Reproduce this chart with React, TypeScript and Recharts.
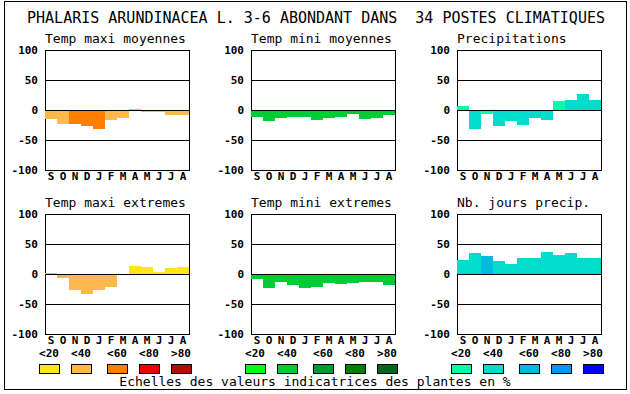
import React from "react";
import { BarChart, Bar, XAxis, YAxis, ReferenceLine, ReferenceArea, Cell } from "recharts";

const months = ["S", "O", "N", "D", "J", "F", "M", "A", "M", "J", "J", "A"];
const yTicks = [-100, -50, 0, 50, 100];
const levelLabels = ["<20", "<40", "<60", "<80", ">80"];

const warmScale = ["#FFE619", "#FFB84D", "#FF8000", "#EE0000", "#B01000"];
const greenScale = ["#00FF1A", "#00CC33", "#009933", "#008000", "#006619"];
const blueScale = ["#00FFAA", "#00DDCC", "#00BBDD", "#0099EE", "#0000FF"];

// values per month (S..A), and level index of each bar (0 = <20 ... 4 = >80)
const maxiMoy = [-15, -24, -24, -27, -32, -17, -13, 2, -4, -4, -8, -8];
const maxiMoyLvl = [1, 1, 2, 2, 2, 1, 1, 1, 1, 1, 1, 1];
const miniMoy = [-11, -18, -13, -11, -11, -17, -13, -12, -7, -15, -13, -8];
const miniMoyLvl = [1, 1, 1, 1, 1, 1, 1, 1, 1, 1, 1, 1];
const precip = [7, -32, -6, -27, -18, -25, -13, -17, 15, 17, 27, 17];
const precipLvl = [0, 1, 0, 1, 1, 1, 1, 1, 0, 1, 1, 1];
const maxiExt = [2, -6, -27, -33, -27, -21, 0, 13, 12, 3, 10, 12];
const maxiExtLvl = [1, 1, 1, 1, 1, 1, 1, 0, 0, 0, 0, 0];
const miniExt = [-8, -23, -13, -18, -24, -21, -15, -16, -15, -13, -13, -18];
const miniExtLvl = [1, 1, 1, 1, 1, 1, 1, 1, 1, 1, 1, 1];
const joursPrecip = [23, 35, 30, 22, 17, 27, 27, 37, 32, 35, 27, 27];
const joursPrecipLvl = [1, 1, 2, 1, 1, 1, 1, 1, 1, 1, 1, 1];

const MONO = "'DejaVu Sans Mono', monospace";
const tickStyle = { fontSize: 11, fontWeight: "bold", fill: "#000", fontFamily: MONO };

const colLefts = [45, 251, 457];
const rowTops = [50, 214];

const panels = [
  { title: "Temp maxi moyennes", col: 0, row: 0, values: maxiMoy, levels: maxiMoyLvl, palette: warmScale },
  { title: "Temp mini moyennes", col: 1, row: 0, values: miniMoy, levels: miniMoyLvl, palette: greenScale },
  { title: "Precipitations", col: 2, row: 0, values: precip, levels: precipLvl, palette: blueScale },
  { title: "Temp maxi extremes", col: 0, row: 1, values: maxiExt, levels: maxiExtLvl, palette: warmScale },
  { title: "Temp mini extremes", col: 1, row: 1, values: miniExt, levels: miniExtLvl, palette: greenScale },
  { title: "Nb. jours precip.", col: 2, row: 1, values: joursPrecip, levels: joursPrecipLvl, palette: blueScale },
];

const palettes = [warmScale, greenScale, blueScale];
const swatchOffsets = [0, 32, 68, 100, 132];

function Panel({ left, top, values, levels, palette }: any) {
  const data = values.map((v: number, i: number) => ({ i, v }));
  return (
    <div style={{ position: "absolute", left: left - 45, top: top - 10 }}>
      <BarChart width={199} height={152} data={data} margin={{ top: 10, right: 10, left: 5, bottom: 0 }} barCategoryGap={0}>
        <XAxis
          dataKey="i"
          type="category"
          interval={0}
          tickFormatter={(i: number) => months[i]}
          tick={tickStyle}
          tickLine={false}
          axisLine={false}
          tickSize={0}
          tickMargin={2}
          height={22}
        />
        <YAxis
          domain={[-100, 100]}
          ticks={yTicks}
          tick={tickStyle}
          tickLine={false}
          axisLine={false}
          tickSize={0}
          tickMargin={7}
          width={40}
          allowDataOverflow
        />
        <Bar dataKey="v" isAnimationActive={false}>
          {data.map((d: any) => (
            <Cell key={d.i} fill={palette[levels[d.i]]} />
          ))}
        </Bar>
        <ReferenceLine y={50} stroke="#000" strokeWidth={1} />
        <ReferenceLine y={0} stroke="#000" strokeWidth={1} />
        <ReferenceLine y={-50} stroke="#000" strokeWidth={1} />
        <ReferenceArea y1={-100} y2={100} fill="none" fillOpacity={0} stroke="#000" strokeWidth={1} />
      </BarChart>
    </div>
  );
}

export default function App() {
  return (
    <div style={{ position: "absolute", left: 0, top: 0, width: 630, height: 394, background: "#fff", shapeRendering: "crispEdges" }}>
      <svg width={630} height={394} style={{ position: "absolute", left: 0, top: 0 }}>
        <rect x={4.5} y={1.5} width={622} height={388} fill="none" stroke="#000" strokeWidth={1} />
        <text x={316} y={23} textAnchor="middle" fontFamily={MONO} fontSize={15} fill="#000" style={{ whiteSpace: "pre" }}>
          PHALARIS ARUNDINACEA L. 3-6 ABONDANT DANS  34 POSTES CLIMATIQUES
        </text>
        {panels.map((p) => (
          <text key={p.title} x={colLefts[p.col]} y={rowTops[p.row] - 7} fontFamily={MONO} fontSize={13} fill="#000">
            {p.title}
          </text>
        ))}
        {palettes.map((pal, g) =>
          pal.map((c, k) => {
            const x = colLefts[g] - 6 + swatchOffsets[k];
            return (
              <g key={`${g}-${k}`}>
                <text x={x + 10} y={357} textAnchor="middle" fontFamily={MONO} fontSize={11} fontWeight="bold" fill="#000">
                  {levelLabels[k]}
                </text>
                <rect x={x + 0.5} y={364.5} width={20} height={9} fill={c} stroke="#000" strokeWidth={1} />
              </g>
            );
          })
        )}
        <text x={315} y={386} textAnchor="middle" fontFamily={MONO} fontSize={13} fill="#000">
          Echelles des valeurs indicatrices des plantes en %
        </text>
      </svg>
      {panels.map((p) => (
        <Panel key={p.title} left={colLefts[p.col]} top={rowTops[p.row]} values={p.values} levels={p.levels} palette={p.palette} />
      ))}
    </div>
  );
}
